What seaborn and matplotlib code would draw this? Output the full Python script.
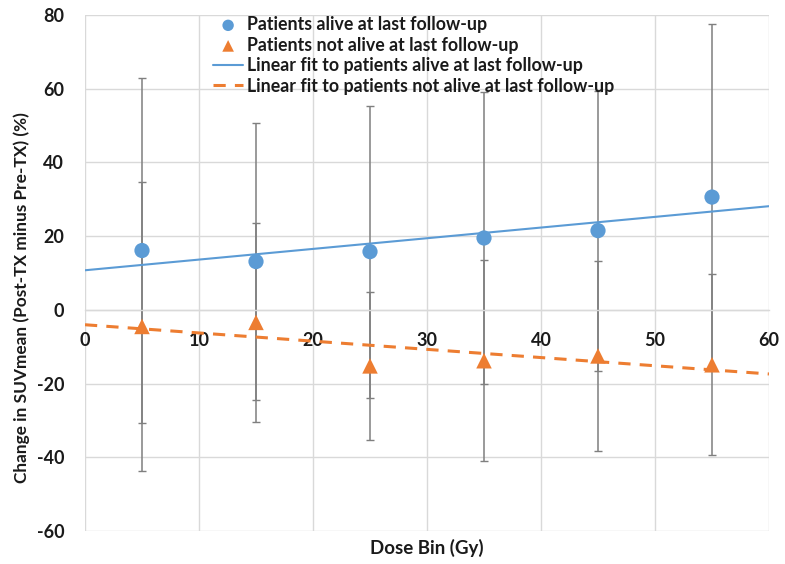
import numpy as np
import pandas as pd
import matplotlib
matplotlib.use("Agg")
import matplotlib.pyplot as plt
import seaborn as sns

# ---- data ----
dose_bins = [5, 15, 25, 35, 45, 55]
alive_mean = [16.1, 13.1, 15.8, 19.5, 21.5, 30.6]
alive_err = [46.7, 37.6, 39.6, 39.7, 38.0, 46.9]
dead_mean = [-4.5, -3.4, -15.2, -13.8, -12.5, -14.9]
dead_err = [39.1, 26.9, 20.0, 27.3, 25.8, 24.6]
x_ticks = [0, 10, 20, 30, 40, 50, 60]
y_ticks = [-60, -40, -20, 0, 20, 40, 60, 80]
series_labels = [
    "Patients alive at last follow-up",
    "Patients not alive at last follow-up",
    "Linear fit to patients alive at last follow-up",
    "Linear fit to patients not alive at last follow-up",
]
x_title = "Dose Bin (Gy)"
y_title = "Change in SUVmean (Post-TX minus Pre-TX) (%)"

BLUE = "#5B9BD5"
ORANGE = "#ED7D31"
GRID = "#D9D9D9"
ERR = "#7F7F7F"
TXT = "#1a1a1a"

sns.set_theme(style="white")
plt.rcParams["font.family"] = ["Lato", "DejaVu Sans"]
plt.rcParams["font.weight"] = "bold"
plt.rcParams["axes.unicode_minus"] = False

df_alive = pd.DataFrame({"dose": dose_bins, "mean": alive_mean, "err": alive_err})
df_dead = pd.DataFrame({"dose": dose_bins, "mean": dead_mean, "err": dead_err})

fig = plt.figure(figsize=(7.85, 5.64), dpi=100)
ax = fig.add_axes([85 / 785, 1 - 531 / 564, 684 / 785, 516 / 564])

ax.set_xlim(x_ticks[0], x_ticks[-1])
ax.set_ylim(y_ticks[0], y_ticks[-1])
ax.set_xticks(x_ticks)
ax.set_yticks(y_ticks)

ax.grid(True, color=GRID, lw=1)
ax.set_axisbelow(True)
for s in ["top", "right", "left"]:
    ax.spines[s].set_visible(False)
ax.spines["bottom"].set_position(("data", 0))
ax.spines["bottom"].set_color(GRID)
ax.spines["bottom"].set_linewidth(1)

# error bars
for df in (df_alive, df_dead):
    ax.errorbar(df["dose"], df["mean"], yerr=df["err"], fmt="none",
                ecolor=ERR, elinewidth=1.1, capsize=3, capthick=1, zorder=2)

# points
sns.scatterplot(data=df_alive, x="dose", y="mean", color=BLUE, marker="o", s=120,
                edgecolor="none", label=series_labels[0], ax=ax, zorder=4)
sns.scatterplot(data=df_dead, x="dose", y="mean", color=ORANGE, marker="^", s=125,
                edgecolor="none", label=series_labels[1], ax=ax, zorder=4)

# linear fits extended to the axis range
sns.regplot(data=df_alive, x="dose", y="mean", scatter=False, ci=None, truncate=False,
            color=BLUE, label=series_labels[2], line_kws=dict(lw=1.5, zorder=3), ax=ax)
sns.regplot(data=df_dead, x="dose", y="mean", scatter=False, ci=None, truncate=False,
            color=ORANGE, label=series_labels[3],
            line_kws=dict(lw=2.2, ls=(0, (4, 3)), zorder=3), ax=ax)

ax.set_xlim(x_ticks[0], x_ticks[-1])
ax.set_ylim(y_ticks[0], y_ticks[-1])

ax.tick_params(axis="x", length=0, pad=16, labelsize=13, labelcolor=TXT)
ax.tick_params(axis="y", length=0, pad=15, labelsize=13, labelcolor=TXT)
for t in ax.get_xticklabels() + ax.get_yticklabels():
    t.set_fontweight("bold")

ax.set_xlabel(x_title, fontsize=13.5, fontweight="bold", color=TXT)
ax.set_ylabel(y_title, fontsize=12.4, fontweight="bold", color=TXT)
ax.xaxis.set_label_coords(0.5, -0.016)
ax.yaxis.set_label_coords(-0.080, 0.452)

handles, labels = ax.get_legend_handles_labels()
order = [labels.index(l) for l in series_labels]
leg = ax.legend([handles[i] for i in order], [labels[i] for i in order],
                loc="upper left", bbox_to_anchor=(213 / 785, 1 - 16 / 564),
                bbox_transform=fig.transFigure, frameon=False, borderpad=0,
                borderaxespad=0, handlelength=1.7, handletextpad=0.22,
                labelspacing=0.2, fontsize=12.8, markerscale=0.75)
for t in leg.get_texts():
    t.set_fontweight("bold")
    t.set_color(TXT)

fig.savefig("out.png", dpi=100)
